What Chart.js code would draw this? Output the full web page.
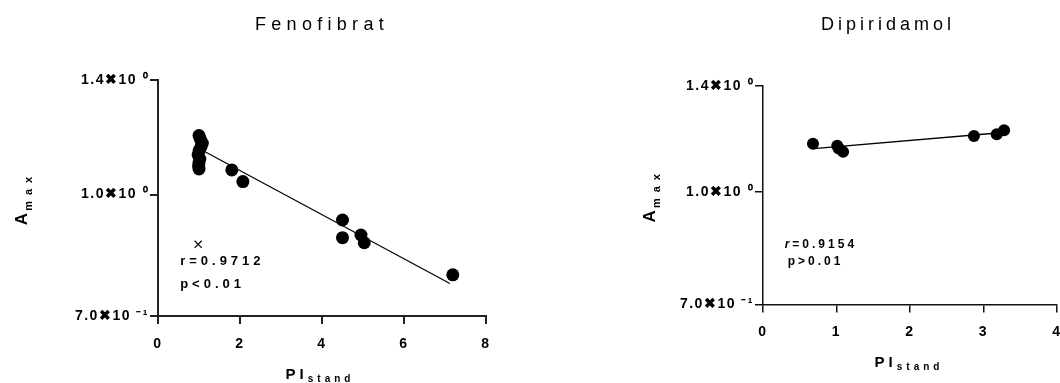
<!DOCTYPE html>
<html>
<head>
<meta charset="utf-8">
<script src="https://cdn.jsdelivr.net/npm/chart.js@4.4.1/dist/chart.umd.min.js"></script>
<style>
    html, body { margin: 0; padding: 0; background: #fff; overflow: hidden; width: 1060px; height: 383px; }
    .box { position: absolute; top: 0; height: 383px; }
</style>
</head>
<body>
<div class="box" style="left:0;width:530px"><canvas id="feno_chart" width="530" height="383"></canvas></div>
<div class="box" style="left:530px;width:545px"><canvas id="dipi_chart" width="545" height="383"></canvas></div>
<script>
// Fenofibrat: measured points, fit line and the stray cross marker
const fenoX = [1.00, 1.03, 1.08, 1.05, 1.00, 0.98, 1.02, 1.00, 0.99, 1.00, 1.80, 2.07, 4.50, 4.50, 4.95, 5.03, 7.19];
const fenoY = [1.189, 1.177, 1.163, 1.151, 1.137, 1.123, 1.110, 1.097, 1.088, 1.078, 1.075, 1.039, 0.928, 0.881, 0.888, 0.868, 0.790];
const fenoFitX = [1.00, 7.12];
const fenoFitY = [1.145, 0.770];
const fenoCrossX = [0.98];
const fenoCrossY = [0.864];
const fenoXTicks = [0, 2, 4, 6, 8];

// Dipiridamol
const dipiX = [0.68, 1.01, 1.03, 1.09, 2.87, 3.18, 3.28];
const dipiY = [1.166, 1.158, 1.148, 1.136, 1.195, 1.201, 1.217];
const dipiFitX = [0.69, 3.27];
const dipiFitY = [1.148, 1.208];
const dipiXTicks = [0, 1, 2, 3, 4];

// shared log y axis
const yTicks = [0.7, 1.0, 1.4];

const FONT = '"Liberation Sans", Arial, Helvetica, sans-serif';

function toPoints(xs, ys) {
    return xs.map((v, i) => ({ x: v, y: ys[i] }));
}

// 1.4 -> "1.4✖10 ⁰", 0.7 -> "7.0✖10 ⁻¹"
function sciLabel(v) {
    const neg = v < 1;
    const m = neg ? v * 10 : v;
    return m.toFixed(1) + '\u2716\uFE0E10 ' + (neg ? '\u207B\u00B9' : '\u2070');
}

// text with a lowered subscript, centred on cx
function drawSub(ctx, cx, base, main, sub, mainSize, subSize, sp1, sp2, drop) {
    ctx.font = 'bold ' + mainSize + 'px ' + FONT;
    ctx.letterSpacing = sp1 + 'px';
    const w1 = ctx.measureText(main).width;
    ctx.font = 'bold ' + subSize + 'px ' + FONT;
    ctx.letterSpacing = sp2 + 'px';
    const w2 = ctx.measureText(sub).width;
    const start = cx - (w1 + w2) / 2;
    ctx.textAlign = 'left';
    ctx.textBaseline = 'alphabetic';
    ctx.font = 'bold ' + mainSize + 'px ' + FONT;
    ctx.letterSpacing = sp1 + 'px';
    ctx.fillText(main, start, base);
    ctx.font = 'bold ' + subSize + 'px ' + FONT;
    ctx.letterSpacing = sp2 + 'px';
    ctx.fillText(sub, start + w1, base + drop);
}

// titles, axis titles and the r / p notes
function textPlugin(spec) {
    return {
        id: 'texts',
        beforeLayout(chart) { chart.ctx.letterSpacing = '1.5px'; },
        beforeDraw(chart) { chart.ctx.letterSpacing = '1.5px'; },
        afterDraw(chart) {
            const ctx = chart.ctx;
            const xs = chart.scales.x;
            const ys = chart.scales.y;
            ctx.save();
            ctx.fillStyle = '#000';

            //chart title
            ctx.font = '18px ' + FONT;
            ctx.letterSpacing = spec.titleSpacing + 'px';
            ctx.textAlign = 'center';
            ctx.textBaseline = 'middle';
            ctx.fillText(spec.title, spec.titleX, 25);

            //y title, rotated
            ctx.save();
            ctx.translate(spec.yTitleX, (chart.chartArea.top + chart.chartArea.bottom) / 2);
            ctx.rotate(-Math.PI / 2);
            drawSub(ctx, 0, 0, 'A', 'max', 17, 11, 2, 6, 5);
            ctx.restore();

            //x title
            drawSub(ctx, spec.xTitleX, spec.xTitleY, 'PI', 'stand', 15, 10, 4, 4, 3);

            //r and p notes
            ctx.textAlign = 'left';
            ctx.textBaseline = 'middle';
            spec.notes.forEach(n => {
                let px = xs.getPixelForValue(n.x);
                const py = ys.getPixelForValue(n.y);
                ctx.letterSpacing = n.spacing + 'px';
                if (n.italic) {
                    ctx.font = 'italic bold ' + n.size + 'px ' + FONT;
                    ctx.fillText(n.italic, px, py);
                    px += ctx.measureText(n.italic).width;
                }
                ctx.font = 'bold ' + n.size + 'px ' + FONT;
                ctx.fillText(n.text, px, py);
            });
            ctx.restore();
        }
    };
}

function createChart(id, s) {
    const ctx = document.getElementById(id);
    const datasets = [{
        data: toPoints(s.x, s.y),
        showLine: false,
        pointRadius: s.radius,
        pointBackgroundColor: '#000',
        pointBorderColor: '#000',
        pointBorderWidth: 0,
    }, {
        data: toPoints(s.fitX, s.fitY),
        showLine: true,
        pointRadius: 0,
        borderColor: '#000',
        borderWidth: s.lineWidth,
    }];
    if (s.crossX) {
        datasets.push({
            data: toPoints(s.crossX, s.crossY),
            showLine: false,
            pointStyle: 'crossRot',
            pointRadius: 5,
            pointBorderColor: '#000',
            pointBorderWidth: 1.2,
        });
    }
    return new Chart(ctx, {
        type: 'scatter',
        data: { datasets: datasets },
        options: {
            responsive: false,
            animation: false,
            layout: { padding: { top: s.top, right: s.right, left: 0, bottom: 0 } },
            plugins: { legend: { display: false }, tooltip: { enabled: false } },
            scales: {
                x: {
                    type: 'linear',
                    min: 0,
                    max: s.xMax,
                    afterBuildTicks: sc => { sc.ticks = s.xTicks.map(v => ({ value: v })); },
                    afterFit: sc => { sc.height = s.xAxisH; },
                    ticks: { color: '#000', padding: s.xPad, font: { family: FONT, size: 14, weight: 'bold' } },
                    grid: { drawOnChartArea: false, tickLength: 8, color: s.axisColor, lineWidth: s.axisWidth },
                    border: { color: s.axisColor, width: s.axisWidth }
                },
                y: {
                    type: 'logarithmic',
                    min: 0.7,
                    max: 1.4,
                    afterBuildTicks: sc => { sc.ticks = yTicks.map(v => ({ value: v })); },
                    afterFit: sc => { sc.width = s.yAxisW; },
                    ticks: { color: '#000', padding: 1, callback: v => sciLabel(v), font: { family: FONT, size: 14, weight: 'bold' } },
                    grid: { drawOnChartArea: false, tickLength: 8, color: s.axisColor, lineWidth: s.axisWidth },
                    border: { color: s.axisColor, width: s.axisWidth }
                }
            }
        },
        plugins: [textPlugin(s.text)]
    });
}

let fenoChart;
let dipiChart;

window.onload = () => {
    fenoChart = createChart('feno_chart', {
        x: fenoX, y: fenoY, fitX: fenoFitX, fitY: fenoFitY,
        crossX: fenoCrossX, crossY: fenoCrossY,
        xTicks: fenoXTicks, xMax: 8,
        radius: 6.5, lineWidth: 1.2,
        top: 80, right: 44, yAxisW: 158, xAxisH: 67, xPad: 12,
        axisColor: '#222', axisWidth: 2,
        text: {
            title: 'Fenofibrat', titleX: 322, titleSpacing: 5.3,
            yTitleX: 27, xTitleX: 320, xTitleY: 379,
            notes: [
                { x: 0.54, y: 0.821, text: 'r=0.9712', size: 13, spacing: 4 },
                { x: 0.54, y: 0.767, text: 'p<0.01', size: 13, spacing: 4 }
            ]
        }
    });
    dipiChart = createChart('dipi_chart', {
        x: dipiX, y: dipiY, fitX: dipiFitX, fitY: dipiFitY,
        xTicks: dipiXTicks, xMax: 4,
        radius: 6, lineWidth: 1.3,
        top: 86, right: 18, yAxisW: 233, xAxisH: 78.5, xPad: 11,
        axisColor: '#111', axisWidth: 1.5,
        text: {
            title: 'Dipiridamol', titleX: 358, titleSpacing: 4,
            yTitleX: 125, xTitleX: 379, xTitleY: 367,
            notes: [
                { x: 0.295, y: 0.845, italic: 'r', text: '=0.9154', size: 12, spacing: 3 },
                { x: 0.336, y: 0.801, text: 'p>0.01', size: 12, spacing: 3 }
            ]
        }
    });
};
</script>
</body>
</html>
